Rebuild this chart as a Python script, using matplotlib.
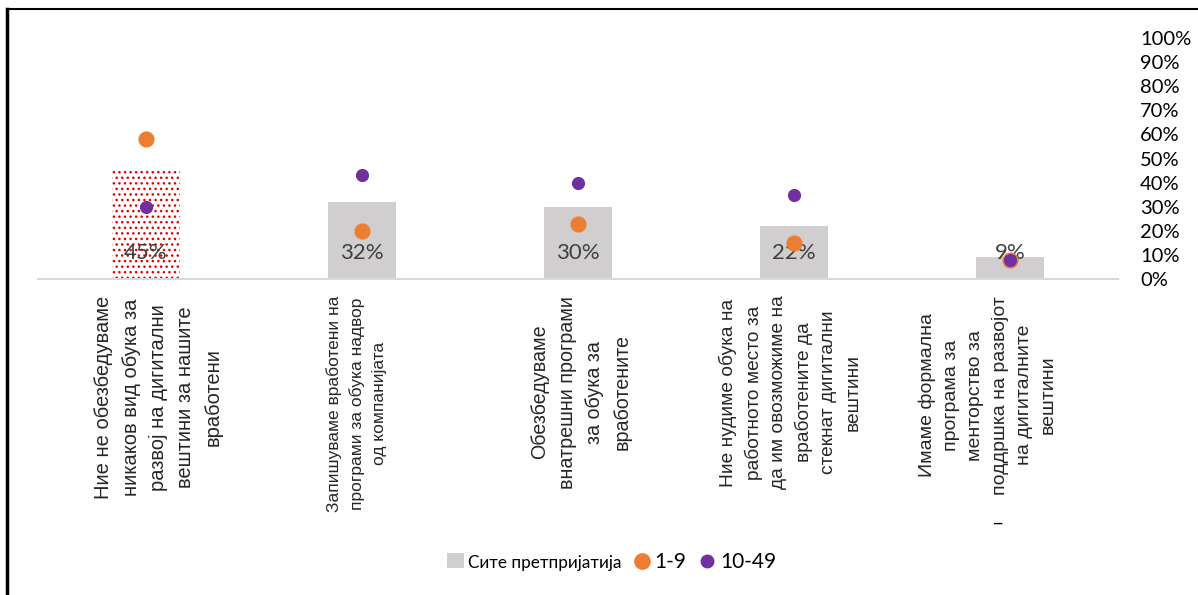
import matplotlib.pyplot as plt
from matplotlib.lines import Line2D
from matplotlib.patches import Patch

categories = [
    "Ние не обезбедуваме\nникаков вид обука за\nразвој на дигитални\nвештини за нашите\nвработени",
    "Запишуваме вработени на\nпрограми за обука надвор\nод компанијата",
    "Обезбедуваме\nвнатрешни програми\nза обука за\nвработените",
    "Ние нудиме обука на\nработното место за\nда им овозможиме на\nвработените да\nстекнат дигитални\nвештини",
    "Имаме формална\nпрограма за\nменторство за\nподдршка на развојот\nна дигиталните\nвештини",
]
all_firms = [0.45, 0.32, 0.30, 0.22, 0.09]
small_1_9 = [0.58, 0.20, 0.23, 0.15, 0.08]
medium_10_49 = [0.30, 0.43, 0.40, 0.35, 0.08]
bar_labels = ["45%", "32%", "30%", "22%", "9%"]
y_ticks = [i / 10 for i in range(11)]
y_tick_labels = [f"{i * 10}%" for i in range(11)]

GRAY = "#D0CECE"
ORANGE = "#ED7D31"
PURPLE = "#7030A0"
TXT = "#404040"
calibri = ["Lato", "Liberation Sans", "DejaVu Sans"]
arial = ["Liberation Sans", "DejaVu Sans"]
label_sizes = [14.5, 12.5, 14.2, 13.8, 14]
label_shift = [9, -4, 2, -3, -16]  # points, the text boxes are not centred on the bars

fig = plt.figure(figsize=(11.98, 5.95), dpi=100)
ax = fig.add_axes([38 / 1198, 1 - 279 / 595, 1080 / 1198, 241 / 595])

x = list(range(len(categories)))
bars = ax.bar(x, all_firms, width=0.315, color=GRAY, linewidth=0, zorder=1)
# first bar is filled with a red dotted pattern in the original
bars[0].set_facecolor("white")
bars[0].set_edgecolor("#E00000")
bars[0].set_hatch("...")

for xi, lab in zip(x, bar_labels):
    ax.text(xi, 0.108, lab, ha="center", va="center", fontsize=16,
            color=TXT, family=calibri, zorder=2)

ax.scatter(x, small_1_9, s=135, color=ORANGE, linewidths=0, zorder=3)
ax.scatter(x, medium_10_49, s=90, color=PURPLE, linewidths=0, zorder=4)

ax.set_xlim(-0.5, len(categories) - 0.5)
ax.set_ylim(0, 1)
for s in ["top", "left", "right"]:
    ax.spines[s].set_visible(False)
ax.spines["bottom"].set_color("#D9D9D9")
ax.spines["bottom"].set_linewidth(1.5)
ax.set_xticks([])
ax.yaxis.tick_right()
ax.set_yticks(y_ticks)
ax.set_yticklabels(y_tick_labels, family=calibri, fontsize=14.5, color="black")
ax.tick_params(axis="y", length=0, pad=16)

for xi, cat, fs, dx in zip(x, categories, label_sizes, label_shift):
    ax.annotate(cat, xy=(xi, 0), xycoords=("data", "axes fraction"),
                xytext=(dx, -12), textcoords="offset points",
                rotation=90, ha="center", va="top", multialignment="center",
                fontsize=fs, linespacing=1.55, family=arial, color="#262626")
ax.annotate("_", xy=(4, 0), xycoords=("data", "axes fraction"),
            xytext=(-9, -170), textcoords="offset points", ha="center",
            va="center", fontsize=12, color="black")

handles = [
    Patch(facecolor=GRAY, edgecolor="none"),
    Line2D([], [], marker="o", linestyle="none", color=ORANGE, markersize=11),
    Line2D([], [], marker="o", linestyle="none", color=PURPLE, markersize=9),
]
leg = fig.legend(handles, ["Сите претпријатија", "1-9", "10-49"], ncol=3,
                 loc="center", bbox_to_anchor=(0.5105, 1 - 562 / 595), frameon=False,
                 prop={"family": calibri, "size": 15}, handlelength=0.8,
                 handletextpad=0.2, columnspacing=0.6)
leg.get_texts()[0].set_fontsize(12.3)

fig.add_artist(Line2D([7 / 1198, 7 / 1198], [0, 1 - 9 / 595],
                      transform=fig.transFigure, color="black", linewidth=2.5))
fig.add_artist(Line2D([7 / 1198, 1], [1 - 9 / 595, 1 - 9 / 595],
                      transform=fig.transFigure, color="black", linewidth=1.5))

fig.savefig("out.png", dpi=100)
